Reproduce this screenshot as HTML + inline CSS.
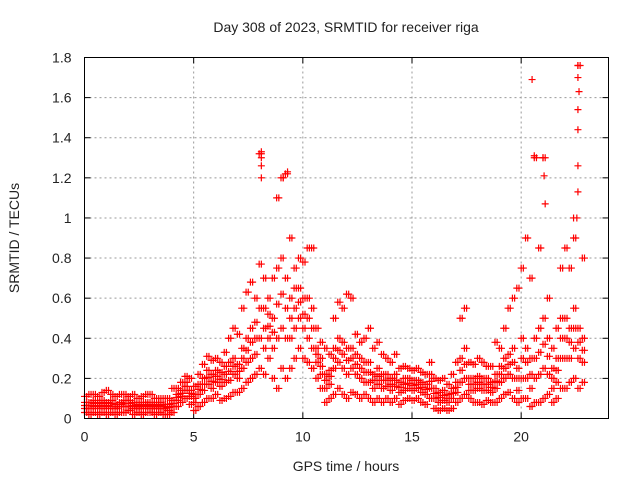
<!DOCTYPE html>
<html><head><meta charset="utf-8"><style>
body{margin:0;background:#fff;width:640px;height:480px;overflow:hidden}
text{font-family:"Liberation Sans",sans-serif;font-size:14px;fill:#222}
</style></head><body>
<svg id="chart" width="640" height="480" xmlns="http://www.w3.org/2000/svg">
<text x="346" y="32" text-anchor="middle">Day 308 of 2023, SRMTID for receiver riga</text>
<text transform="translate(19,238) rotate(-90)" text-anchor="middle">SRMTID / TECUs</text>
<text x="346" y="471" text-anchor="middle">GPS time / hours</text>
<g id="grid"></g>
<g id="ticks"></g>
<g id="marks"></g>
<rect x="84.5" y="57.5" width="524" height="361" fill="none" stroke="#000" stroke-width="1"/>
</svg>
<script>
const xTicks=[0,5,10,15,20];
const yTicks=[0,0.2,0.4,0.6,0.8,1,1.2,1.4,1.6,1.8];
const yTickLabels=["0","0.2","0.4","0.6","0.8","1","1.2","1.4","1.6","1.8"];
const hours=[0,0.2,0.4,0.6,0.8,1,1.2,1.4,1.6,1.8,2,2.2,2.4,2.6,2.8,3,3.2,3.4,3.6,3.8,4,4.2,4.4,4.6,4.8,5,5.2,5.4,5.6,5.8,6,6.2,6.4,6.6,6.8,7,7.2,7.4,7.6,7.8,8,8.2,8.4,8.6,8.8,9,9.2,9.4,9.6,9.8,10,10.2,10.4,10.6,10.8,11,11.2,11.4,11.6,11.8,12,12.2,12.4,12.6,12.8,13,13.2,13.4,13.6,13.8,14,14.2,14.4,14.6,14.8,15,15.2,15.4,15.6,15.8,16,16.2,16.4,16.6,16.8,17,17.2,17.4,17.6,17.8,18,18.2,18.4,18.6,18.8,19,19.2,19.4,19.6,19.8,20,20.2,20.4,20.6,20.8,21,21.2,21.4,21.6,21.8,22,22.2,22.4,22.6,22.8];
const vMin=[.03,.02,.03,.02,.03,.02,.03,.02,.03,.03,.04,.02,.03,.02,.03,.03,.02,.03,.02,.02,.03,.06,.08,.10,.07,.04,.06,.08,.10,.10,.12,.09,.10,.11,.13,.13,.15,.18,.20,.22,.25,.22,.30,.20,.15,.25,.20,.25,.30,.35,.30,.28,.25,.20,.15,.08,.10,.12,.15,.12,.10,.13,.12,.10,.12,.10,.08,.10,.08,.10,.08,.10,.07,.09,.10,.09,.10,.08,.07,.10,.05,.04,.05,.04,.05,.08,.10,.12,.10,.08,.08,.07,.09,.08,.08,.10,.12,.13,.10,.08,.10,.10,.06,.08,.08,.10,.12,.08,.10,.15,.15,.18,.20,.15,.18];
const vLow=[.05,.05,.06,.05,.06,.05,.06,.05,.06,.06,.06,.05,.05,.05,.06,.05,.05,.05,.05,.04,.06,.09,.11,.14,.11,.08,.12,.14,.17,.15,.18,.16,.18,.19,.22,.20,.25,.28,.30,.32,.40,.35,.40,.35,.40,.45,.40,.40,.45,.50,.45,.40,.35,.28,.22,.15,.17,.25,.28,.25,.22,.25,.22,.20,.18,.18,.15,.17,.15,.16,.14,.16,.13,.14,.15,.14,.15,.13,.12,.15,.10,.08,.09,.08,.10,.13,.18,.20,.14,.14,.15,.14,.14,.13,.15,.18,.20,.22,.20,.14,.20,.20,.15,.20,.22,.25,.22,.15,.18,.30,.30,.30,.35,.30,.28];
const vMid=[.065,.065,.075,.065,.075,.065,.075,.06,.07,.075,.075,.065,.06,.065,.07,.065,.06,.065,.06,.055,.075,.105,.125,.16,.125,.10,.145,.17,.205,.185,.21,.195,.22,.235,.26,.235,.30,.34,.38,.40,.55,.45,.46,.43,.57,.62,.55,.50,.55,.58,.52,.50,.45,.32,.26,.19,.21,.30,.34,.32,.29,.30,.27,.25,.23,.23,.19,.21,.19,.19,.17,.19,.155,.17,.175,.165,.17,.155,.145,.185,.125,.105,.115,.10,.125,.155,.24,.27,.17,.17,.18,.17,.17,.155,.185,.22,.25,.27,.28,.20,.30,.28,.22,.30,.33,.37,.31,.20,.24,.40,.40,.38,.45,.38,.34];
const vHigh=[.08,.08,.09,.08,.09,.08,.09,.07,.08,.09,.09,.08,.07,.08,.08,.08,.07,.08,.07,.07,.09,.12,.14,.18,.14,.12,.17,.20,.24,.22,.24,.23,.26,.28,.30,.27,.35,.40,.45,.48,.77,.55,.52,.50,.75,.80,.70,.60,.65,.65,.60,.60,.55,.35,.30,.22,.24,.35,.40,.38,.35,.35,.32,.30,.28,.28,.22,.25,.22,.22,.20,.22,.18,.20,.20,.19,.19,.18,.17,.22,.15,.13,.14,.12,.15,.18,.30,.35,.20,.20,.21,.20,.20,.18,.22,.26,.30,.32,.35,.25,.40,.35,.30,.40,.45,.50,.40,.25,.30,.50,.50,.45,.55,.45,.40];
const vMax=[.11,.12,.12,.11,.13,.14,.12,.11,.12,.12,.11,.12,.10,.11,.12,.12,.10,.10,.10,.10,.15,.15,.18,.21,.20,.16,.22,.27,.31,.29,.30,.28,.33,.40,.45,.42,.55,.63,.68,.60,1.32,.70,.60,.70,1.10,1.20,1.22,.90,.75,.80,.78,.85,.85,.45,.38,.35,.32,.50,.58,.55,.62,.60,.42,.38,.40,.45,.35,.38,.32,.30,.28,.32,.25,.26,.25,.24,.25,.23,.22,.28,.20,.19,.20,.17,.22,.28,.50,.55,.28,.27,.30,.28,.26,.26,.38,.35,.45,.55,.60,.65,.75,.90,.70,1.30,.85,1.30,.60,.35,.45,.75,.85,.75,.90,1.76,.80];
const outlierHours=[20.5,22.6,22.6,22.65,22.6,22.6,22.6,22.6,20.6,21.0,21.05,8.1,8.1,8.1,8.1,9.3,9.1,21.1,22.55,22.4];
const outlierValues=[1.69,1.76,1.70,1.63,1.54,1.44,1.26,1.13,1.31,1.30,1.21,1.33,1.30,1.26,1.20,1.23,1.20,1.07,1.00,1.00];
const X0=84.5,X1=608.5,Y0=418.5,Y1=57.5;
const xs=h=>X0+h/24*(X1-X0);
const ys=v=>Y0-v/1.8*(Y0-Y1);
const NS="http://www.w3.org/2000/svg";
const grid=document.getElementById('grid'),ticks=document.getElementById('ticks'),marks=document.getElementById('marks');
function mk(tag,attrs,parent){const e=document.createElementNS(NS,tag);for(const k in attrs)e.setAttribute(k,attrs[k]);parent.appendChild(e);return e;}
xTicks.forEach(t=>{
  const x=xs(t);
  if(t>0){const g=mk('line',{x1:x,x2:x,y1:Y0,y2:Y1,stroke:'#999','stroke-dasharray':'2,3'},grid);
  
  }
  mk('line',{x1:x,x2:x,y1:Y0,y2:Y0-6,stroke:'#000'},ticks);
  mk('line',{x1:x,x2:x,y1:Y1,y2:Y1+6,stroke:'#000'},ticks);
  const tx=mk('text',{x:x,y:Y0+23,'text-anchor':'middle'},ticks);tx.textContent=String(t);
  
  
});
yTicks.forEach((t,i)=>{
  const y=ys(t);
  if(t>0&&t<1.8){const g=mk('line',{x1:X0,x2:X1,y1:y,y2:y,stroke:'#999','stroke-dasharray':'2,3'},grid);
  
  }
  mk('line',{x1:X0,x2:X0+6,y1:y,y2:y,stroke:'#000'},ticks);
  mk('line',{x1:X1,x2:X1-6,y1:y,y2:y,stroke:'#000'},ticks);
  const tx=mk('text',{x:X0-13,y:y+5,'text-anchor':'end'},ticks);tx.textContent=yTickLabels[i];
  
  
});
function plus(h,v){
  const x=xs(h),y=ys(v);
  const p=mk('path',{d:`M${x-3.5},${y}H${x+3.5}M${x},${y-3.5}V${y+3.5}`,stroke:'#f00','stroke-width':1.2,fill:'none'},marks);
  
  
}
hours.forEach((h,i)=>{
  const vals=[vMin[i],vLow[i],vMid[i],vHigh[i],vMax[i]];
  vals.forEach(v=>plus(h,v));
  vals.forEach(v=>plus(h+0.1,v));
});
outlierHours.forEach((h,i)=>plus(h,outlierValues[i]));
</script>
</body></html>
